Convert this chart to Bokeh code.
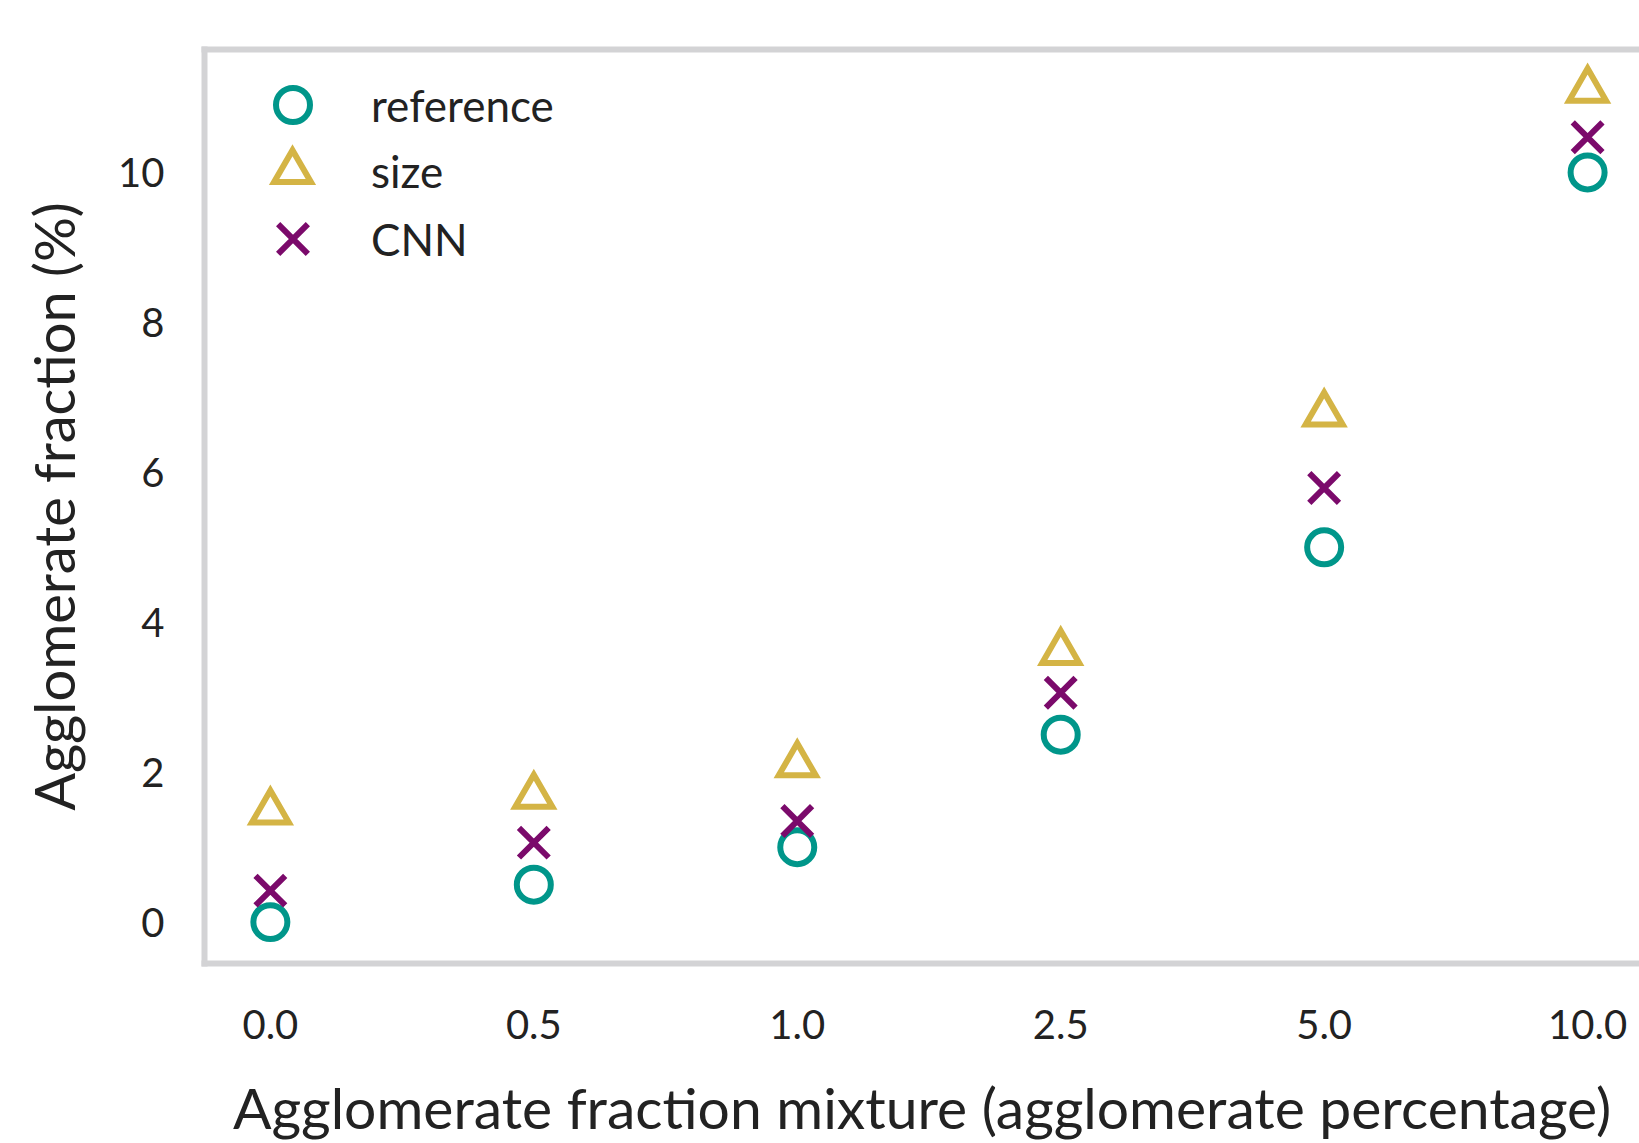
from bokeh.plotting import figure
from bokeh.models import Range1d, FixedTicker, LinearAxis, Legend, LegendItem
from bokeh.embed import file_html
from bokeh.resources import INLINE

categories = ["0.0", "0.5", "1.0", "2.5", "5.0", "10.0"]
reference = [0.0, 0.5, 1.0, 2.5, 5.0, 10.0]
size_vals = [1.47, 1.68, 2.10, 3.60, 6.78, 11.10]
cnn_vals = [0.42, 1.06, 1.35, 3.06, 5.79, 10.47]
y_ticks = [0, 2, 4, 6, 8, 10]

xs = list(range(len(categories)))

FONT = "Lato"
TEXT = "#222222"
FRAME = "#d3d3d5"
TEAL = "#00968a"
GOLD = "#d4b445"
PURPLE = "#7b0a6b"

CIRCLE_SIZE = 34
TRI_SIZE = 37
X_SIZE = 42

p = figure(width=1639, height=1143, output_backend="svg", toolbar_location=None,
           x_range=Range1d(-0.25, 5.197), y_range=Range1d(-0.552, 11.64),
           min_border_left=204, min_border_right=0, min_border_top=49, min_border_bottom=178)
p.outline_line_color = None
p.xgrid.visible = False
p.ygrid.visible = False
p.background_fill_color = "white"
p.border_fill_color = "white"

r_ref = p.scatter(xs, reference, marker="circle", size=CIRCLE_SIZE, fill_color=None,
                  line_color=TEAL, line_width=6)
r_size = p.scatter(xs, size_vals, marker="triangle", size=TRI_SIZE, fill_color=None,
                   line_color=GOLD, line_width=6, line_join="miter")
r_cnn = p.scatter(xs, cnn_vals, marker="x", size=X_SIZE, line_color=PURPLE, line_width=6)

def style_axis(ax):
    ax.axis_line_color = FRAME
    ax.axis_line_width = 6
    ax.axis_line_cap = "square"
    ax.major_tick_line_color = None
    ax.minor_tick_line_color = None
    ax.major_tick_out = 0
    ax.major_tick_in = 0
    ax.minor_tick_out = 0
    ax.minor_tick_in = 0
    ax.major_label_text_font = FONT
    ax.major_label_text_color = TEXT
    ax.major_label_text_font_size = "40px"
    ax.axis_label_text_font = FONT
    ax.axis_label_text_color = TEXT
    ax.axis_label_text_font_size = "56px"
    ax.axis_label_text_font_style = "normal"

xa = p.xaxis[0]
style_axis(xa)
xa.ticker = FixedTicker(ticks=xs)
xa.major_label_overrides = {i: c for i, c in zip(xs, categories)}
xa.major_label_standoff = 46
xa.axis_label = "Agglomerate fraction mixture (agglomerate percentage)"
xa.axis_label_text_font_size = "57px"
xa.axis_label_standoff = 31

ya = p.yaxis[0]
style_axis(ya)
ya.ticker = FixedTicker(ticks=y_ticks)
ya.major_label_standoff = 40
ya.axis_label = "Agglomerate fraction (%)"
ya.axis_label_standoff = 28

top = LinearAxis(ticker=FixedTicker(ticks=[]))
style_axis(top)
top.major_label_text_font_size = "0px"
p.add_layout(top, "above")

# legend rows: (label, renderer, marker size, row center)
frame_left, frame_top, frame_bottom = 204, 49, 965
marker_cx = 292
label_x = 371
rows = [("reference", r_ref, CIRCLE_SIZE, 106),
        ("size", r_size, TRI_SIZE, 173),
        ("CNN", r_cnn, X_SIZE, 240)]
for label, rend, msize, cy in rows:
    g = msize / 0.4
    loc_x = marker_cx - g / 2 - frame_left
    loc_y = frame_bottom - (cy + g / 2)
    lg = Legend(items=[LegendItem(label=label, renderers=[rend])],
                location=(int(round(loc_x)), int(round(loc_y))),
                glyph_width=int(round(g)), glyph_height=int(round(g)),
                label_standoff=int(round(label_x - marker_cx - g / 2)),
                padding=0, margin=0, spacing=0, border_line_color=None,
                background_fill_alpha=0,
                label_text_font=FONT, label_text_color=TEXT, label_text_font_size="44px")
    p.add_layout(lg)

open("out.html", "w").write(file_html(p, INLINE))
